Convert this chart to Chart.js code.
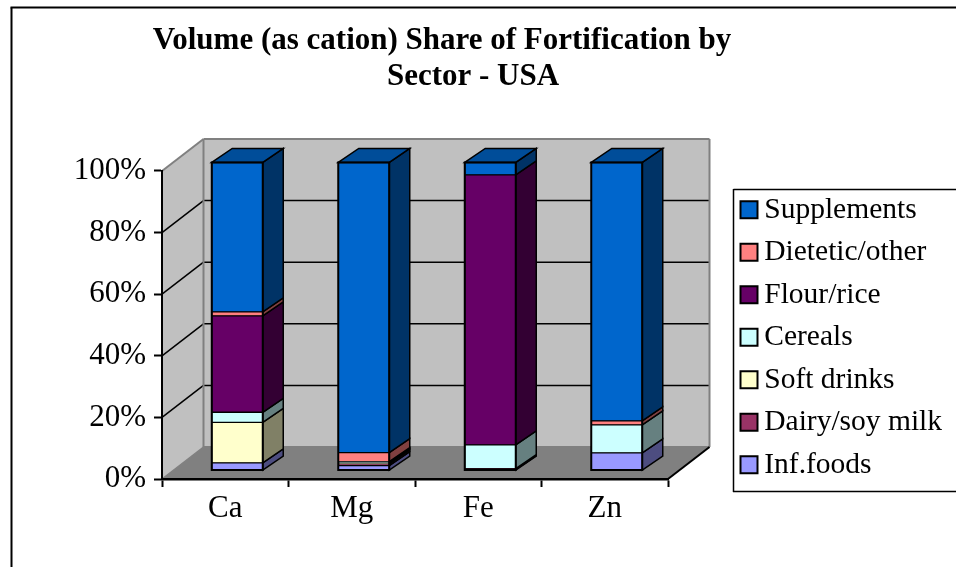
<!DOCTYPE html>
<html lang="en">
<head>
    <meta charset="UTF-8">
    <title>Volume (as cation) Share of Fortification by Sector - USA</title>
    <style>
        body { margin: 0; background: #fff; overflow: hidden; }
        canvas { display: block; }
    </style>
    <script src="https://cdn.jsdelivr.net/npm/chart.js"></script>
</head>
<body>
    <canvas id="shareChart" width="956" height="567"></canvas>

    <script>
const categories = ["Ca", "Mg", "Fe", "Zn"];

// values in %, bottom of the stack first
const infFoods    = [2.5, 1.6, 0.3, 5.7];
const dairySoy    = [0, 0.6, 0.3, 0];
const softDrinks  = [13.1, 0.3, 0, 0];
const cereals     = [3.3, 0.4, 7.7, 9.1];
const flourRice   = [31.3, 0, 87.7, 0];
const dieteticOth = [1.3, 2.9, 0, 1.3];
const supplements = [48.5, 94.2, 4, 83.9];

const serif = "'Liberation Serif', 'Times New Roman', serif";

function shade(hex, f) {
    const n = parseInt(hex.slice(1), 16);
    return "rgb(" + Math.round((n >> 16) * f) + "," + Math.round(((n >> 8) & 255) * f) + "," + Math.round((n & 255) * f) + ")";
}

function makeSeries(label, data, color) {
    return {
        label: label,
        data: data,
        backgroundColor: color,
        borderColor: "#000",
        borderWidth: 1,
        borderSkipped: false,
        barThickness: 51,
        clip: false
    };
}

function poly(ctx, pts, fill, stroke, lw) {
    ctx.beginPath();
    pts.forEach(function (p, i) { i ? ctx.lineTo(p[0], p[1]) : ctx.moveTo(p[0], p[1]); });
    ctx.closePath();
    ctx.fillStyle = fill;
    ctx.fill();
    if (stroke) {
        ctx.strokeStyle = stroke;
        ctx.lineWidth = lw;
        ctx.stroke();
    }
}

function line(ctx, x1, y1, x2, y2, color, lw) {
    ctx.beginPath();
    ctx.moveTo(x1, y1);
    ctx.lineTo(x2, y2);
    ctx.strokeStyle = color;
    ctx.lineWidth = lw;
    ctx.stroke();
}

// Excel style 3D look: walls and floor behind the axes, side faces on the bars
const wallDx = 41.5, wallDy = 32;
const barDx = 20.5, barDy = 14;
const shiftX = 12, shiftY = -8.5;

const fake3d = {
    id: "fake3d",
    beforeDraw(chart) {
        const ctx = chart.ctx, a = chart.chartArea, y = chart.scales.y;

        // move title and legend to where the original has them
        const t = chart.titleBlock;
        t.left = 0; t.right = 884; t.top = 23;
        const l = chart.legend, h = l.height;
        l.left = 735.5; l.right = 956; l.top = 182; l.bottom = l.top + h;

        ctx.save();
        ctx.fillStyle = "#fff";
        ctx.fillRect(0, 0, chart.width, chart.height);

        // frame, open on the right and at the bottom
        line(ctx, 11.5, 567, 11.5, 7.5, "#000", 2);
        line(ctx, 10.5, 7.5, 956, 7.5, "#000", 2);

        const bx = a.left + wallDx, tb = a.top - wallDy, bb = a.bottom - wallDy, rb = a.right + wallDx;
        poly(ctx, [[a.left, a.top], [bx, tb], [bx, bb], [a.left, a.bottom]], "#c0c0c0");
        poly(ctx, [[bx, tb], [rb, tb], [rb, bb], [bx, bb]], "#c0c0c0");
        poly(ctx, [[a.left, a.bottom], [bx, bb], [rb, bb], [a.right, a.bottom]], "#808080");

        y.ticks.forEach(function (tick) {
            if (tick.value <= 0 || tick.value >= 100) return;
            const py = y.getPixelForValue(tick.value);
            line(ctx, a.left, py, bx, py - wallDy, "#000", 1.5);
            line(ctx, bx, py - wallDy, rb, py - wallDy, "#000", 1.5);
        });

        line(ctx, a.left, a.top, bx, tb, "#808080", 2);
        line(ctx, bx, tb, rb, tb, "#808080", 2);
        line(ctx, rb, tb, rb, bb, "#808080", 2);
        line(ctx, bx, tb, bx, bb, "#808080", 2);
        line(ctx, a.left, a.bottom, bx, bb, "#808080", 1.5);
        line(ctx, bx, bb, rb, bb, "#808080", 2);
        line(ctx, a.right, a.bottom, rb, bb, "#000", 2);
        ctx.restore();
    },
    beforeDatasetsDraw(chart) {
        const ctx = chart.ctx;
        const count = chart.data.datasets.length;
        ctx.save();
        ctx.translate(shiftX, shiftY);
        chart.data.datasets.forEach(function (ds, i) {
            chart.getDatasetMeta(i).data.forEach(function (bar) {
                const r = bar.x + bar.width / 2, left = bar.x - bar.width / 2;
                if (bar.base - bar.y > 0.01) {
                    poly(ctx, [[r, bar.y], [r + barDx, bar.y - barDy], [r + barDx, bar.base - barDy], [r, bar.base]],
                        shade(ds.backgroundColor, 0.5), "#000", 1.5);
                }
                if (i === count - 1) {
                    poly(ctx, [[left, bar.y], [left + barDx, bar.y - barDy], [r + barDx, bar.y - barDy], [r, bar.y]],
                        shade(ds.backgroundColor, 0.75), "#000", 1.5);
                }
            });
        });
    },
    afterDatasetsDraw(chart) {
        const ctx = chart.ctx;
        const last = chart.getDatasetMeta(chart.data.datasets.length - 1).data;
        const first = chart.getDatasetMeta(0).data;
        last.forEach(function (bar, j) {
            ctx.strokeStyle = "#000";
            ctx.lineWidth = 2;
            ctx.strokeRect(bar.x - bar.width / 2, bar.y, bar.width, first[j].base - bar.y);
        });
        ctx.restore();
    },
    afterDraw(chart) {
        const ctx = chart.ctx;
        ctx.save();
        // legend frame runs off the right edge like the original
        line(ctx, 956, 189.5, 733.5, 189.5, "#000", 1.5);
        line(ctx, 733.5, 189, 733.5, 492, "#000", 1.5);
        line(ctx, 733, 491.5, 956, 491.5, "#000", 1.5);
        ctx.restore();
    }
};

new Chart(document.getElementById("shareChart"), {
    type: "bar",
    data: {
        labels: categories,
        datasets: [
            makeSeries("Inf.foods", infFoods, "#9999ff"),
            makeSeries("Dairy/soy milk", dairySoy, "#993366"),
            makeSeries("Soft drinks", softDrinks, "#ffffcc"),
            makeSeries("Cereals", cereals, "#ccffff"),
            makeSeries("Flour/rice", flourRice, "#660066"),
            makeSeries("Dietetic/other", dieteticOth, "#ff8080"),
            makeSeries("Supplements", supplements, "#0066cc")
        ]
    },
    options: {
        responsive: false,
        animation: false,
        layout: { padding: { left: 62, top: 99, right: 86, bottom: 38 } },
        plugins: {
            tooltip: { enabled: false },
            title: {
                display: true,
                text: ["Volume (as cation) Share of Fortification by", "        Sector - USA"],
                color: "#000",
                padding: 0,
                font: { family: serif, size: 31, weight: "bold", lineHeight: 1.161 }
            },
            legend: {
                position: "right",
                align: "start",
                reverse: true,
                labels: {
                    color: "#000",
                    font: { family: serif, size: 29.5 },
                    padding: 13,
                    usePointStyle: true,
                    pointStyle: "rect",
                    boxWidth: 1,
                    boxHeight: 17,
                    generateLabels(chart) {
                        return Chart.defaults.plugins.legend.labels.generateLabels(chart).map(function (item) {
                            item.lineWidth = 2;
                            return item;
                        });
                    }
                }
            }
        },
        scales: {
            x: {
                stacked: true,
                afterFit(scale) { scale.height = 50; },
                grid: { drawOnChartArea: false, drawTicks: true, tickLength: 8, tickColor: "#000", tickWidth: 2, offset: true },
                border: { color: "#000", width: 2.5 },
                ticks: { color: "#000", font: { family: serif, size: 31 }, padding: 3, maxRotation: 0, autoSkip: false }
            },
            y: {
                stacked: true,
                min: 0,
                max: 100,
                afterFit(scale) { scale.width = 100; },
                grid: { drawOnChartArea: false, drawTicks: true, tickLength: 8, tickColor: "#000", tickWidth: 2 },
                border: { color: "#000", width: 2 },
                ticks: {
                    color: "#000",
                    font: { family: serif, size: 31 },
                    padding: 8,
                    stepSize: 20,
                    callback: function (v) { return v + "%"; }
                }
            }
        }
    },
    plugins: [fake3d]
});
    </script>
</body>
</html>
